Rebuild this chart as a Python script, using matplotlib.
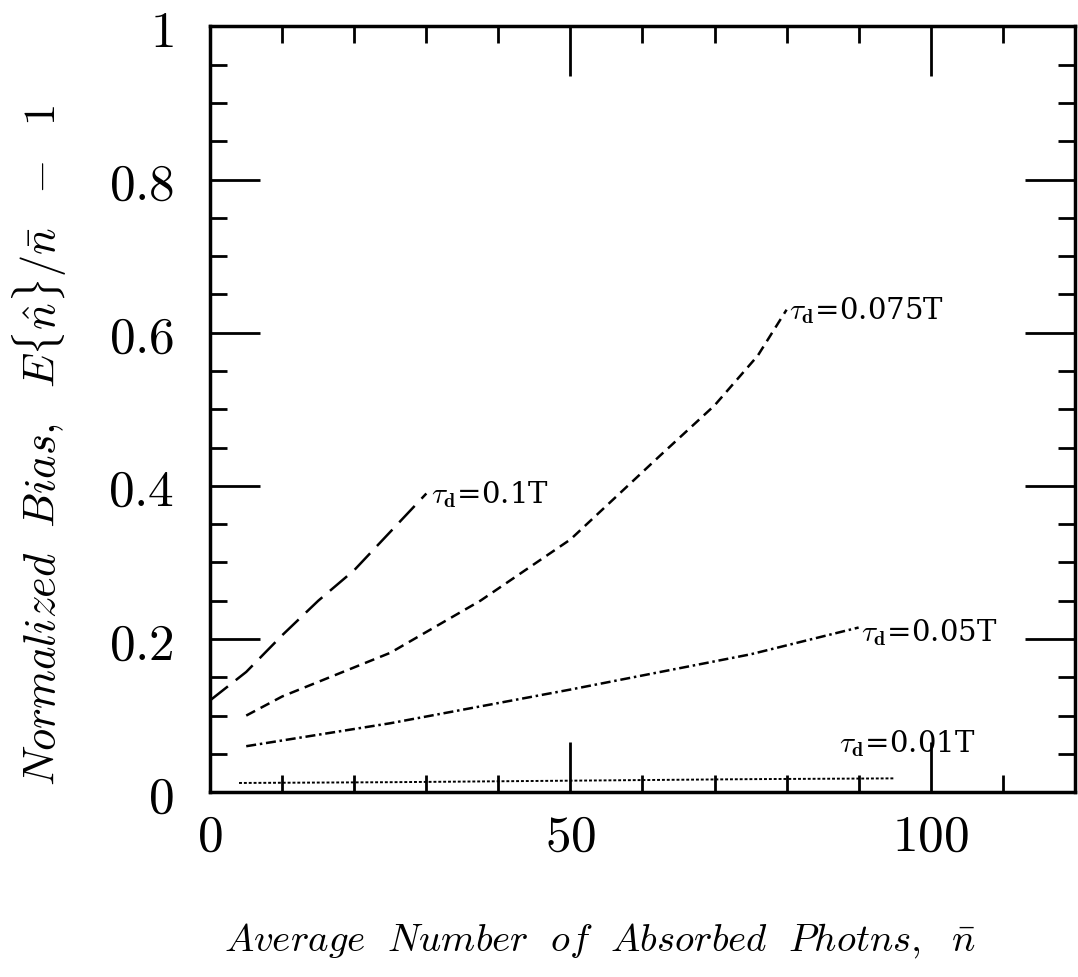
"""Normalized bias vs. average number of absorbed photons for several dead times."""

import matplotlib.pyplot as plt
from matplotlib.ticker import MultipleLocator, FormatStrFormatter

plt.rcParams["mathtext.fontset"] = "cm"
plt.rcParams["font.family"] = "DejaVu Serif"

# dead time 0.1T
n_01 = [0, 5, 10, 15, 20, 25, 30]
b_01 = [0.12, 0.157, 0.205, 0.25, 0.29, 0.34, 0.39]
# dead time 0.075T
n_0075 = [5, 10, 25, 37.5, 50, 62.5, 70, 76, 80]
b_0075 = [0.10, 0.125, 0.182, 0.25, 0.33, 0.44, 0.505, 0.57, 0.63]
# dead time 0.05T
n_005 = [5, 25, 50, 75, 90]
b_005 = [0.06, 0.09, 0.134, 0.18, 0.215]
# dead time 0.01T
n_001 = [4, 25, 50, 75, 95]
b_001 = [0.012, 0.013, 0.015, 0.017, 0.018]

labels = [r"$\tau_{\mathbf{d}}$=0.1T", r"$\tau_{\mathbf{d}}$=0.075T",
          r"$\tau_{\mathbf{d}}$=0.05T", r"$\tau_{\mathbf{d}}$=0.01T"]
label_xy = [(30.6, 0.39), (80.3, 0.63), (90.3, 0.21), (87.3, 0.065)]

fig = plt.figure(figsize=(10.78, 9.78), dpi=100)
ax = fig.add_axes([0.195, 0.189, 0.802, 0.783])

lw = 1.8
ax.plot(n_01, b_01, color="black", lw=lw, ls=(0, (9, 4)))
ax.plot(n_0075, b_0075, color="black", lw=lw, ls=(0, (4, 2.5)))
ax.plot(n_005, b_005, color="black", lw=lw, ls=(0, (4, 1.5, 1, 1.5)))
ax.plot(n_001, b_001, color="black", lw=1.4, ls=(0, (1.5, 1)))

for text, (x, y) in zip(labels, label_xy):
    ax.text(x, y, text, fontsize=21, va="center", ha="left")

ax.set_xlim(0, 120)
ax.set_ylim(0, 1)
ax.xaxis.set_major_locator(MultipleLocator(50))
ax.xaxis.set_minor_locator(MultipleLocator(10))
ax.yaxis.set_major_locator(MultipleLocator(0.2))
ax.yaxis.set_minor_locator(MultipleLocator(0.05))
ax.xaxis.set_major_formatter(FormatStrFormatter("$%g$"))
ax.yaxis.set_major_formatter(FormatStrFormatter("$%g$"))

ax.tick_params(which="both", direction="in", top=True, right=True, width=2, colors="black")
ax.tick_params(axis="x", which="major", length=36, pad=14, labelsize=37)
ax.tick_params(axis="y", which="major", length=36, pad=26, labelsize=37)
ax.tick_params(which="minor", length=12)
for sp in ax.spines.values():
    sp.set_linewidth(2.5)

ax.set_xlabel(r"$\mathit{Average\ \ Number\ \ of\ \ Absorbed\ \ Photns,}\ \ \bar{n}$",
              fontsize=28, va="center")
ax.set_ylabel(r"$\mathit{Normalized\ \ Bias,}\ \ E\{\hat{n}\}/\bar{n}\ \ -\ \ 1$",
              fontsize=32, va="center")
ax.xaxis.set_label_coords(0.451, -0.192)
ax.yaxis.set_label_coords(-0.197, 0.454)

fig.savefig("out.png", dpi=100, facecolor="white")
